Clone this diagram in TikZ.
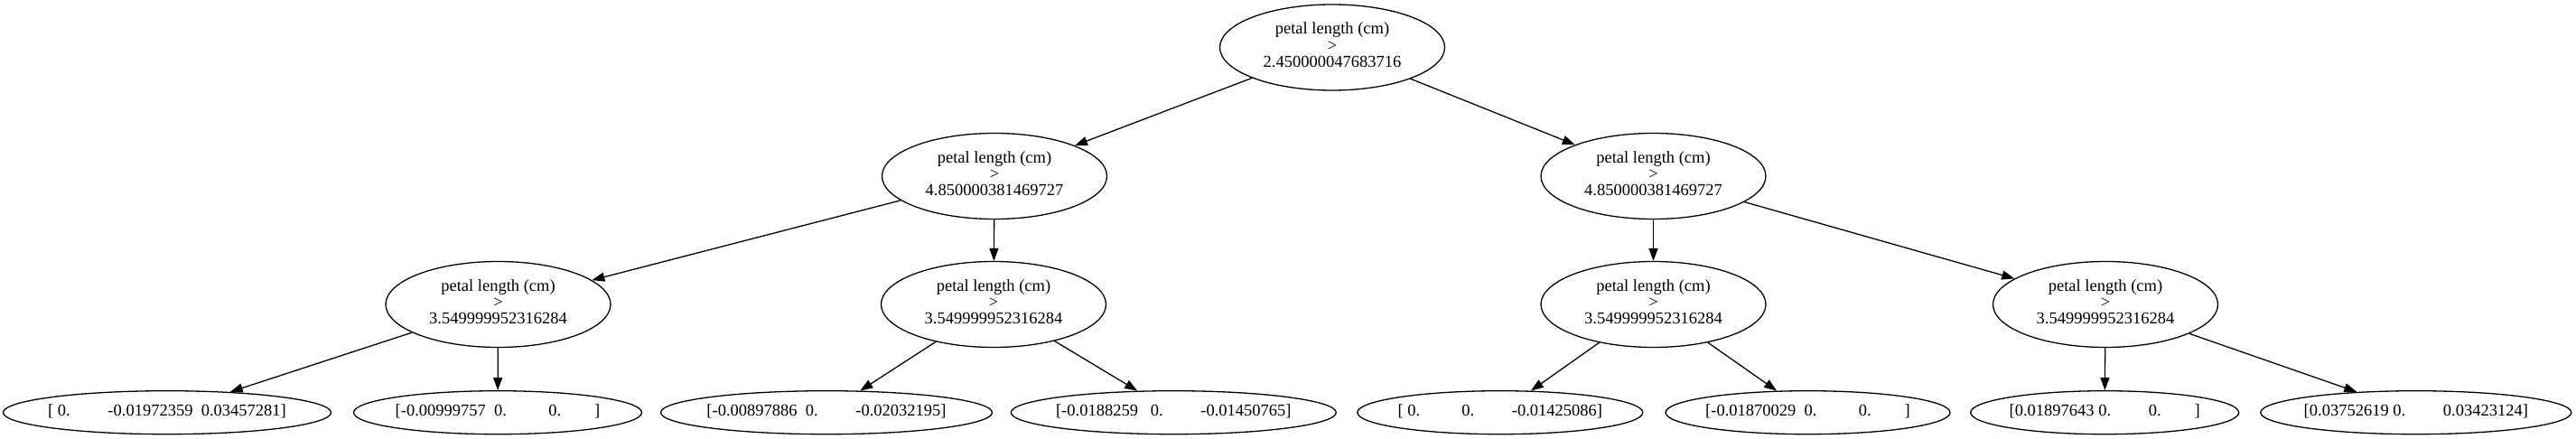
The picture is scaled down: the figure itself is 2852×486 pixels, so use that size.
\documentclass[tikz,border=0pt]{standalone}
\usepackage{fontspec}
\setmainfont{Liberation Serif}
\usetikzlibrary{shapes.geometric,arrows.meta}
\newcommand{\nlbl}[1]{\makebox[0pt][c]{\begin{tabular}{@{}c@{}}#1\end{tabular}}}
\newcommand{\sk}[1]{\hspace*{#1\fontdimen2\font}}
\newcommand{\thr}[1]{\nlbl{petal length (cm)\\ >\\ #1}}
\begin{document}
\begin{tikzpicture}[x=1pt,y=-1pt,
  every node/.style={font=\fontsize{18.5}{18.3}\selectfont},
  split/.style={ellipse,draw,line width=1.3pt,inner sep=0pt,minimum width=249pt,minimum height=95pt},
  leaf/.style={ellipse,draw,line width=1.3pt,inner sep=0pt,minimum height=48pt},
  edge/.style={draw,line width=1.3pt,-{Triangle[length=14pt,width=10pt]}}]
\useasboundingbox (0,0) rectangle (2852,486);
% internal nodes
\node[split] (r)  at (1475,52.5) {\thr{2.450000047683716}};
\node[split] (n1) at (1101,195) {\thr{4.850000381469727}};
\node[split] (n2) at (1830.5,195) {\thr{4.850000381469727}};
\node[split] (n3) at (551.5,337) {\thr{3.549999952316284}};
\node[split] (n4) at (1100,337) {\thr{3.549999952316284}};
\node[split] (n5) at (1830.5,337) {\thr{3.549999952316284}};
\node[split] (n6) at (2331,337) {\thr{3.549999952316284}};
% leaves
\node[leaf,minimum width=363pt] (l1) at (185,456.7) {\nlbl{[\sk{1}0.\sk{9}-0.01972359\sk{2}0.03457281]}};
\node[leaf,minimum width=319pt] (l2) at (551,456.7) {\nlbl{[-0.00999757\sk{2}0.\sk{10}0.\sk{8}]}};
\node[leaf,minimum width=367pt] (l3) at (915,456.7) {\nlbl{[-0.00897886\sk{2}0.\sk{9}-0.02032195]}};
\node[leaf,minimum width=360pt] (l4) at (1299.3,456.7) {\nlbl{[-0.0188259\sk{3}0.\sk{9}-0.01450765]}};
\node[leaf,minimum width=316pt] (l5) at (1660.8,456.7) {\nlbl{[\sk{1}0.\sk{10}0.\sk{9}-0.01425086]}};
\node[leaf,minimum width=315pt] (l6) at (2001.5,456.7) {\nlbl{[-0.01870029\sk{2}0.\sk{10}0.\sk{8}]}};
\node[leaf,minimum width=297pt] (l7) at (2330.2,456.7) {\nlbl{[0.01897643\sk{1}0.\sk{9}0.\sk{8}]}};
\node[leaf,minimum width=344pt] (l8) at (2674.8,456.7) {\nlbl{[0.03752619\sk{1}0.\sk{9}0.03423124]}};
% edges
\draw[edge] (r) -- (n1);
\draw[edge] (r) -- (n2);
\draw[edge] (n1) -- (n3);
\draw[edge] (n1) -- (n4);
\draw[edge] (n2) -- (n5);
\draw[edge] (n2) -- (n6);
\draw[edge] (n3) -- (l1);
\draw[edge] (n3) -- (l2);
\draw[edge] (n4) -- (l3);
\draw[edge] (n4) -- (l4);
\draw[edge] (n5) -- (l5);
\draw[edge] (n5) -- (l6);
\draw[edge] (n6) -- (l7);
\draw[edge] (n6) -- (l8);
\end{tikzpicture}
\end{document}
